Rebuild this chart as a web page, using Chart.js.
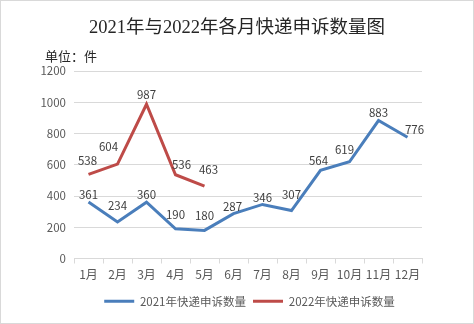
<!DOCTYPE html>
<html>
<head>
<meta charset="utf-8">
<script src="https://cdn.jsdelivr.net/npm/chart.js@4.4.0/dist/chart.umd.min.js"></script>
<style>
  body { margin: 0; background: #fff; }
  #wrap {
    position: relative;
    width: 472px;
    height: 322px;
    border: 1px solid #d9d9d9;
    font-family: "Noto Sans CJK SC", sans-serif;
  }
  #title {
    position: absolute;
    left: 0; right: 0; top: 11px;
    text-align: center;
    font-family: "Liberation Serif", "Noto Sans CJK SC", serif;
    font-size: 18.5px;
    color: #262626;
  }
  #unit {
    position: absolute;
    left: 44px; top: 45px;
    font-size: 13px;
    color: #262626;
  }
  canvas { position: absolute; left: 0; top: 0; }
</style>
</head>
<body>
<div id="wrap">
  <canvas id="chart" width="472" height="322"></canvas>
  <div id="title">2021年与2022年各月快递申诉数量图</div>
  <div id="unit">单位：件</div>
</div>
<script>
// 数据
const months = ['1月', '2月', '3月', '4月', '5月', '6月', '7月', '8月', '9月', '10月', '11月', '12月'];
const data2021 = [361, 234, 360, 190, 180, 287, 346, 307, 564, 619, 883, 776];
const data2022 = [538, 604, 987, 536, 463];
const seriesNames = ['2021年快递申诉数量', '2022年快递申诉数量'];
const yTicks = [0, 200, 400, 600, 800, 1000, 1200];

// 数据标签的偏移（相对点的位置）
const labelOffsets = [
  [[0, -7], [0, -16], [0, -8], [0, -14], [0, -15], [-1, -7], [0, -7], [0, -16], [-2, -10], [-5, -12], [0, -8], [7, -8]],
  [[-1, -14], [-9, -18], [0, -10], [6, -10], [4, -17]]
];

// 简单的数据标签插件
const valueLabels = {
  id: 'valueLabels',
  afterDatasetsDraw(chart) {
    const ctx = chart.ctx;
    ctx.save();
    ctx.font = '11.5px "Noto Sans CJK SC", sans-serif';
    ctx.fillStyle = '#404040';
    ctx.textAlign = 'center';
    ctx.textBaseline = 'middle';
    chart.data.datasets.forEach((ds, i) => {
      const meta = chart.getDatasetMeta(i);
      meta.data.forEach((pt, j) => {
        const off = labelOffsets[i][j] || [0, -12];
        ctx.fillText(ds.data[j], pt.x + off[0], pt.y + off[1]);
      });
    });
    ctx.restore();
  }
};

const ctx = document.getElementById('chart').getContext('2d');
new Chart(ctx, {
  type: 'line',
  data: {
    labels: months,
    datasets: [{
      label: seriesNames[0],
      data: data2021,
      borderColor: '#4a7ebb',
      backgroundColor: '#4a7ebb',
      borderWidth: 3,
      pointRadius: 0,
      tension: 0
    }, {
      label: seriesNames[1],
      data: data2022,
      borderColor: '#be4b48',
      backgroundColor: '#be4b48',
      borderWidth: 3,
      pointRadius: 0,
      tension: 0
    }]
  },
  options: {
    responsive: false,
    animation: false,
    layout: { padding: { top: 70, right: 0, left: 25, bottom: 6 } },
    plugins: {
      legend: {
        position: 'bottom',
        labels: {
          usePointStyle: true,
          pointStyle: 'line',
          pointStyleWidth: 30,
          padding: 7,
          color: '#595959',
          font: { family: '"Noto Sans CJK SC", sans-serif', size: 11.5 }
        }
      },
      tooltip: { enabled: false }
    },
    scales: {
      x: {
        offset: true,
        grid: {
          offset: true,
          drawOnChartArea: false,
          drawTicks: true,
          tickLength: 5,
          color: '#d9d9d9'
        },
        border: { display: true, color: '#d9d9d9' },
        ticks: {
          padding: 4,
          color: '#595959',
          maxRotation: 0,
          font: { family: '"Noto Sans CJK SC", sans-serif', size: 12 }
        },
        afterFit(scale) { scale.height = 30; }
      },
      y: {
        min: 0,
        max: 1200,
        afterBuildTicks(scale) { scale.ticks = yTicks.map(v => ({ value: v })); },
        grid: { color: '#d9d9d9', drawTicks: false },
        border: { display: false },
        ticks: {
          padding: 8,
          color: '#595959',
          font: { family: '"Noto Sans CJK SC", sans-serif', size: 11.5 },
          callback: (v) => String(v)
        },
        afterFit(scale) { scale.width = 48; }
      },
      // 右侧留白用的空轴
      yRight: {
        type: 'linear',
        position: 'right',
        grid: { display: false },
        border: { display: false },
        ticks: { display: false },
        afterFit(scale) { scale.width = 51; }
      }
    }
  },
  plugins: [valueLabels]
});
</script>
</body>
</html>
